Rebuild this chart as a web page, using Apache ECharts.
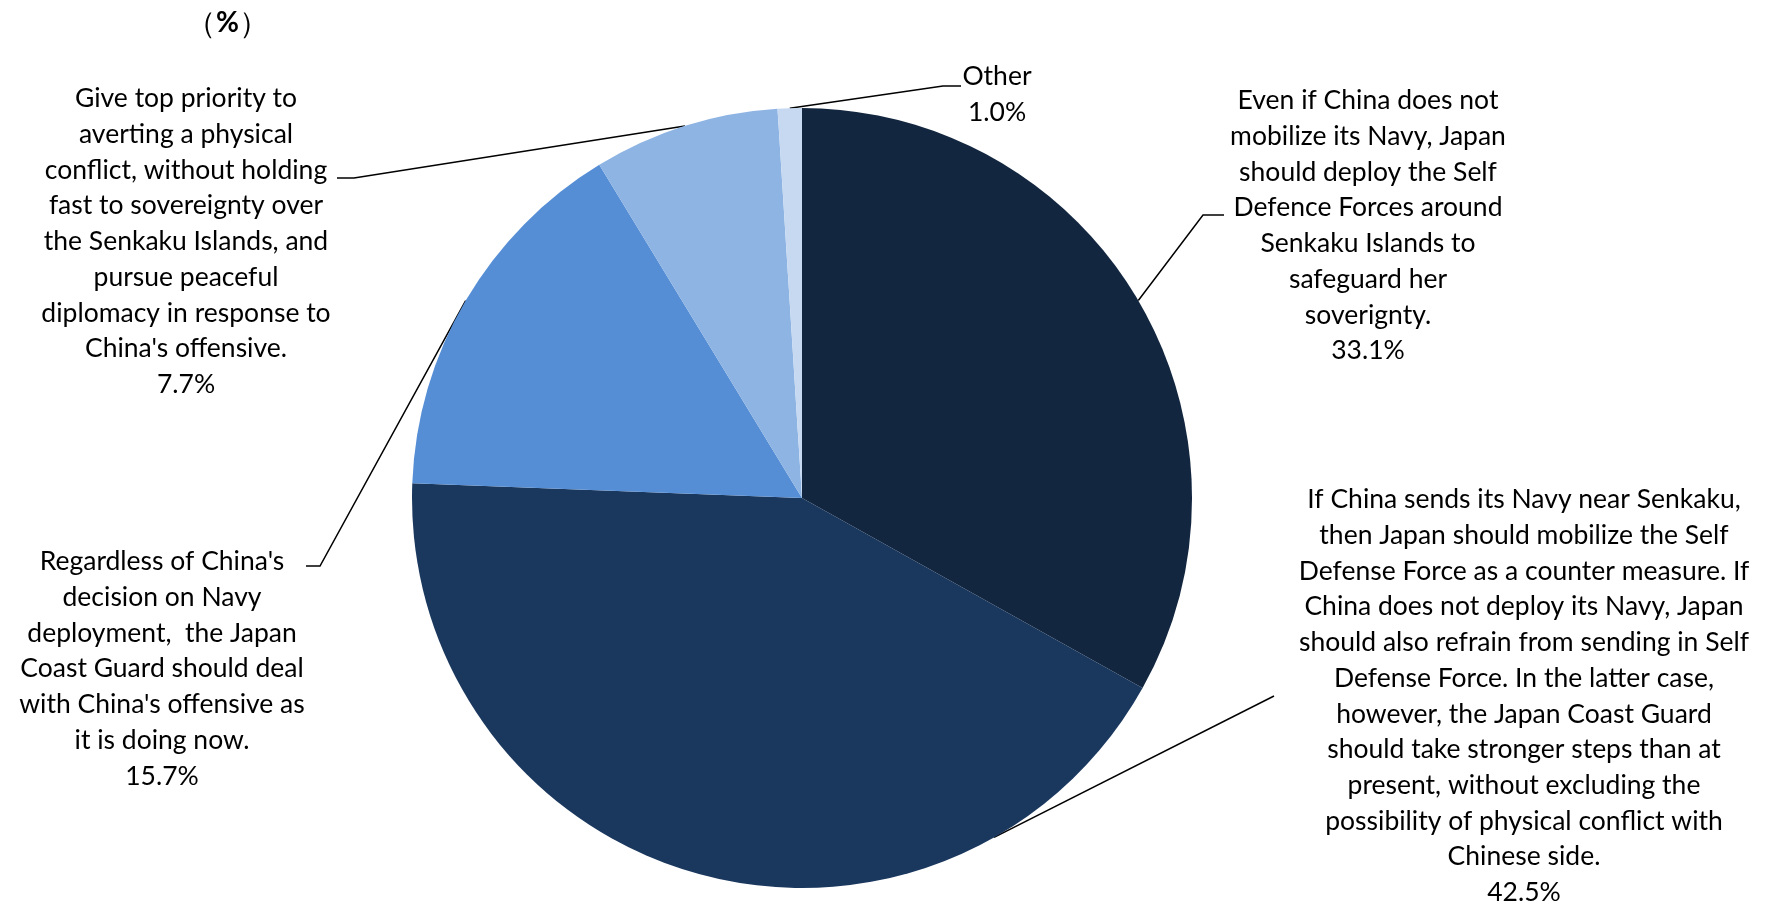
<!DOCTYPE html>
<html><head><meta charset="utf-8">
<script src="https://cdn.jsdelivr.net/npm/echarts@6/dist/echarts.min.js"></script>
<style>html,body{margin:0;padding:0;background:#fff}#c{width:1777px;height:907px}</style>
</head><body><div id="c"></div>
<script>
const categories = [
  "Even if China does not\nmobilize its Navy, Japan\nshould deploy the Self\nDefence Forces around\nSenkaku Islands to\nsafeguard her\nsoverignty.",
  "If China sends its Navy near Senkaku,\nthen Japan should mobilize the Self\nDefense Force as a counter measure. If\nChina does not deploy its Navy, Japan\nshould also refrain from sending in Self\nDefense Force. In the latter case,\nhowever, the Japan Coast Guard\nshould take stronger steps than at\npresent, without excluding the\npossibility of physical conflict with\nChinese side.",
  "Regardless of China's\ndecision on Navy\ndeployment,  the Japan\nCoast Guard should deal\nwith China's offensive as\nit is doing now.",
  "Give top priority to\naverting a physical\nconflict, without holding\nfast to sovereignty over\nthe Senkaku Islands, and\npursue peaceful\ndiplomacy in response to\nChina's offensive.",
  "Other"
];
const values = [33.1, 42.5, 15.7, 7.7, 1.0];
const unitText = "（{b|%}）";

const colors = ['#13263F', '#1A375E', '#558ED5', '#8EB4E3', '#C6D9F1'];
const CX = 802, CY = 498, R = 390, LH = 35.7, FONT = 'Lato', FS = 26.5;
// label placement (px): centre x, top y, leader start angle (deg, screen, optional), knee, end
const labelPlacement = [
  { x: 1368, top: 83,  knee: [1203, 215], end: [1224, 215] },
  { x: 1524, top: 482, ang: 60.5, knee: [1274, 696], end: [1274, 696] },
  { x: 162,  top: 544, knee: [320, 566], end: [306, 566] },
  { x: 186,  top: 81,  knee: [354, 178], end: [337, 178] },
  { x: 997,  top: 59,  knee: [943, 86],  end: [961, 86] }
];

const chart = echarts.init(document.getElementById('c'), null, { renderer: 'canvas' });
chart.setOption({
  animation: false,
  backgroundColor: '#ffffff',
  title: {
    text: unitText, left: 181, top: 3,
    textStyle: { fontFamily: FONT, fontSize: 30, fontWeight: 'normal', color: '#000',
      rich: { b: { fontFamily: FONT, fontSize: 28, fontWeight: 'bold', color: '#000' } } }
  },
  series: [{
    type: 'pie',
    center: [CX, CY],
    radius: R,
    startAngle: 90,
    clockwise: true,
    avoidLabelOverlap: false,
    data: categories.map((c, i) => ({ name: c, value: values[i], itemStyle: { color: colors[i] } })),
    itemStyle: { borderWidth: 0 },
    label: {
      show: true, position: 'outside',
      formatter: p => p.name + '\n' + p.value.toFixed(1) + '%',
      fontFamily: FONT, fontSize: FS, lineHeight: LH, color: '#000', align: 'center'
    },
    labelLine: { show: true, length: 10, length2: 10, lineStyle: { color: '#000', width: 1.5 } },
    labelLayout: function (params) {
      const L = labelPlacement[params.dataIndex];
      const pts = params.labelLinePoints;
      let start = pts ? pts[0] : [CX, CY];
      if (L.ang != null) {
        const a = L.ang * Math.PI / 180;
        start = [CX + R * Math.cos(a), CY + R * Math.sin(a)];
      }
      return {
        x: L.x, y: L.top, align: 'center', verticalAlign: 'top',
        labelLinePoints: [start, L.knee, L.end]
      };
    },
    emphasis: { disabled: true }
  }]
});
</script></body></html>
